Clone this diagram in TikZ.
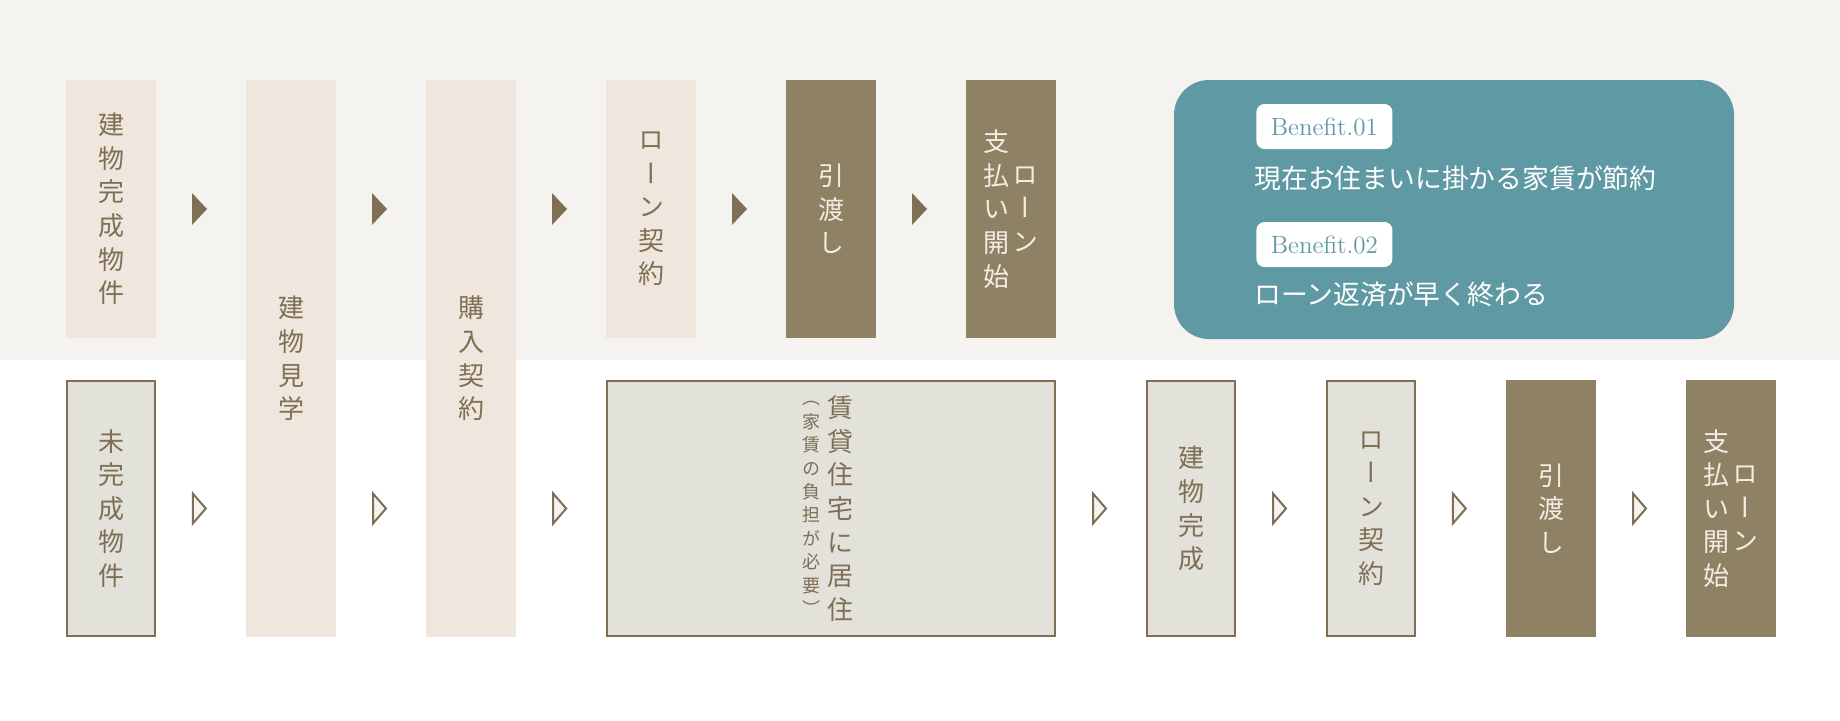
\documentclass[tikz,border=0pt]{standalone}
\usepackage{fontspec}
\newfontfamily\jp{Noto Sans CJK JP}
\newfontfamily\jpv[RawFeature=+vert]{Noto Sans CJK JP}
\usetikzlibrary{calc}
\definecolor{band}{HTML}{F5F3EF}
\definecolor{pale}{HTML}{EFE7DD}
\definecolor{umber}{HTML}{8F8163}
\definecolor{ink}{HTML}{7E6F55}
\definecolor{stone}{HTML}{E2E1DA}
\definecolor{lake}{HTML}{5F99A3}
\definecolor{cream}{HTML}{F3EDE3}
\begin{document}
\begin{tikzpicture}[x=0.5pt, y=-0.5pt,
	vt/.style={align=center, inner sep=0pt, font=\jpv\fontsize{13pt}{16.8pt}\selectfont},
	small vt/.style={align=center, inner sep=0pt, font=\jpv\fontsize{9pt}{11.7pt}\selectfont},
	pale box/.style={vt, fill=pale, text=ink, minimum width=45pt, minimum height=129pt},
	dark box/.style={vt, fill=umber, text=cream, minimum width=45pt, minimum height=129pt},
	framed box/.style={vt, fill=stone, draw=ink, line width=1pt, text=ink, minimum width=44pt, minimum height=127.5pt},
	tag/.style={fill=white, text=lake, rounded corners=4pt, inner sep=0pt, minimum width=68pt, minimum height=22.5pt, anchor=west, font=\rmfamily\fontsize{12.5pt}{15pt}\selectfont},
	perk/.style={text=white, inner sep=0pt, anchor=west, font=\jp\fontsize{13.4pt}{16pt}\selectfont}]
	\useasboundingbox (0,0) rectangle (1840,720);
	\fill[white] (0,0) rectangle (1840,720);
	\fill[band] (0,0) rectangle (1840,360);
	\path
	(0,209) coordinate (rowA)
	(0,508.5) coordinate (rowB)
	;
	% completed property
	\node[pale box] (a1) at (111,209) {建\\物\\完\\成\\物\\件};
	\node[pale box, minimum height=278.5pt] (a2) at (291,358.5) {建\\物\\見\\学};
	\node[pale box, minimum height=278.5pt] (a3) at (471,358.5) {購\\入\\契\\約};
	\node[pale box] (a4) at (651,209) {ロ\\ー\\ン\\契\\約};
	\node[dark box] (a5) at (831,209) {引\\渡\\し};
	\node[dark box] (a6) at (1011,209) {};
	\node[vt, text=cream] (a6l) at ($(a6)+(-15,0)$) {支\\払\\い\\開\\始};
	\node[vt, text=cream] (a6r) at ($(a6)+(14,0)$) {ロ\\ー\\ン};
	% benefits
	\node[fill=lake, rounded corners=17.5pt, minimum width=280pt, minimum height=129.5pt] (ben) at (1454,209.5) {};
	\node[tag] (tag1) at (1256,126.5) {Benefit.01};
	\node[perk] (perk1) at (1254,178) {現在お住まいに掛かる家賃が節約};
	\node[tag] (tag2) at (1256,244.5) {Benefit.02};
	\node[perk] (perk2) at (1254,294.5) {ローン返済が早く終わる};
	% property under construction
	\node[framed box] (c1) at (111,508.5) {未\\完\\成\\物\\件};
	\node[framed box, minimum width=224pt] (c4) at (831,508.5) {};
	\node[vt, text=ink] (c4r) at ($(c4)+(9,0)$) {賃\\貸\\住\\宅\\に\\居\\住};
	\node[small vt, text=ink] (c4l) at ($(c4)+(-20,0)$) {（\\家\\賃\\の\\負\\担\\が\\必\\要\\）};
	\node[framed box] (c5) at (1191,508.5) {建\\物\\完\\成};
	\node[framed box] (c6) at (1371,508.5) {ロ\\ー\\ン\\契\\約};
	\node[dark box, minimum height=128.5pt] (c7) at (1551,508.5) {引\\渡\\し};
	\node[dark box, minimum height=128.5pt] (c8) at (1731,508.5) {};
	\node[vt, text=cream] (c8l) at ($(c8)+(-15,0)$) {支\\払\\い\\開\\始};
	\node[vt, text=cream] (c8r) at ($(c8)+(14,0)$) {ロ\\ー\\ン};
	% step marks
	\foreach \p/\q in {a1/a2,a2/a3,a3/a4,a4/a5,a5/a6}
	\fill[ink] ($(\p.east |- rowA)!.5!(\q.west |- rowA)$) ++(-9,-16) -- ++(15,16) -- ++(-15,16) -- cycle;
	\foreach \p/\q in {c1/a2,a2/a3,a3/c4,c4/c5,c5/c6,c6/c7,c7/c8}
	\draw[ink, fill=band, line width=1pt] ($(\p.east |- rowB)!.5!(\q.west |- rowB)$) ++(-8,-15) -- ++(13,15) -- ++(-13,15) -- cycle;
\end{tikzpicture}
\end{document}
